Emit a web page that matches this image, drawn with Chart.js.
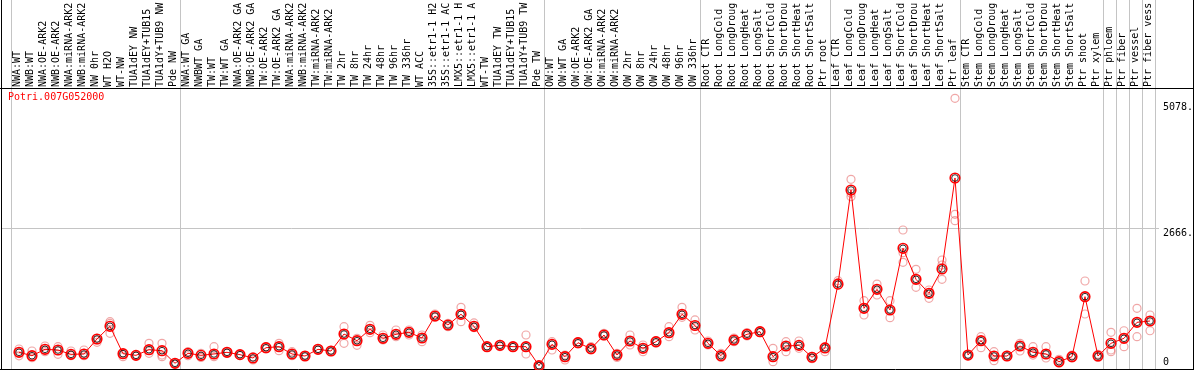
<!DOCTYPE html>
<html>
<head>
<meta charset="utf-8">
<script src="https://cdn.jsdelivr.net/npm/chart.js@4.4.1/dist/chart.umd.min.js"></script>
<style>
  html, body { margin: 0; padding: 0; background: #fff; }
  #myChart { display: block; }
</style>
</head>
<body>
<canvas id="myChart" width="1194" height="370"></canvas>
<script>
const geneName = "Potri.007G052000";

const sampleLabels = [
    "NWA:WT", "NWB:WT", "NWA:OE-ARK2", "NWB:OE-ARK2", "NWA:miRNA-ARK2", "NWB:miRNA-ARK2",
    "NW 0hr", "WT H2O", "WT-NW", "TUA1dEY NW", "TUA1dEY+TUB15", "TUA1dY+TUB9 NW", "Pde NW",
    "NWA:WT GA", "NWBWT GA", "TW:WT", "TW:WT GA", "NWA:OE-ARK2 GA", "NWB:OE-ARK2 GA",
    "TW:OE-ARK2", "TW:OE-ARK2 GA", "NWA:miRNA-ARK2", "NWB:miRNA-ARK2", "TW:miRNA-ARK2", "TW:miRNA-ARK2",
    "TW 2hr", "TW 8hr", "TW 24hr", "TW 48hr", "TW 96hr", "TW 336hr", "WT ACC",
    "35S::etr1-1 H2", "35S::etr1-1 AC", "LMX5::etr1-1 H", "LMX5::etr1-1 A",
    "WT-TW", "TUA1dEY TW", "TUA1dEY+TUB15", "TUA1dY+TUB9 TW", "Pde TW",
    "OW:WT", "OW:WT GA", "OW:OE-ARK2", "OW:OE-ARK2 GA", "OW:miRNA-ARK2", "OW:miRNA-ARK2",
    "OW 2hr", "OW 8hr", "OW 24hr", "OW 48hr", "OW 96hr", "OW 336hr",
    "Root CTR", "Root LongCold", "Root LongDroug", "Root LongHeat", "Root LongSalt",
    "Root ShortCold", "Root ShortDrou", "Root ShortHeat", "Root ShortSalt", "Ptr root",
    "Leaf CTR", "Leaf LongCold", "Leaf LongDroug", "Leaf LongHeat", "Leaf LongSalt",
    "Leaf ShortCold", "Leaf ShortDrou", "Leaf ShortHeat", "Leaf ShortSalt", "Ptr leaf",
    "Stem CTR", "Stem LongCold", "Stem LongDroug", "Stem LongHeat", "Stem LongSalt",
    "Stem ShortCold", "Stem ShortDrou", "Stem ShortHeat", "Stem ShortSalt", "Ptr shoot",
    "Ptr xylem", "Ptr phloem", "Ptr fiber", "Ptr vessel", "Ptr fiber vess"
];

// mean expression per sample
const meanValues = [
    287, 222, 344, 331, 248, 255, 542, 785, 261, 229, 337, 318, 77,
    268, 229, 255, 287, 242, 178, 375, 395, 255, 216, 344, 312,
    637, 509, 727, 555, 632, 670, 561, 982, 810, 1015, 785,
    395, 421, 395, 395, 31,
    440, 203, 471, 356, 618, 235, 503, 364, 490, 662, 1015, 800,
    459, 222, 523, 632, 682, 203, 408, 420, 192, 370,
    1592, 3394, 1129, 1493, 1097, 2278, 1684, 1416, 1882, 3624,
    235, 509, 216, 216, 408, 287, 255, 107, 203, 1352,
    216, 459, 555, 861, 886
];

// replicates
const rep1 = [
    350, 312, 408, 395, 312, 331, 555, 873, 268, 235, 459, 459, 82,
    299, 268, 395, 299, 255, 203, 395, 459, 299, 210, 360, 300,
    777, 555, 804, 618, 714, 714, 618, 1020, 842, 1148, 849,
    405, 440, 405, 618, 25,
    490, 235, 490, 395, 650, 267, 618, 427, 509, 777, 1148, 906,
    503, 268, 561, 664, 700, 364, 490, 503, 210, 395,
    1658, 3599, 1275, 1594, 1275, 2628, 1876, 1480, 2054, 5149,
    242, 586, 299, 235, 459, 395, 395, 153, 235, 1652,
    248, 670, 700, 1129, 1001
];
const rep2 = [
    287, 222, 331, 318, 248, 268, 523, 842, 248, 229, 331, 235, 77,
    268, 203, 248, 287, 242, 165, 375, 395, 255, 216, 344, 312,
    637, 509, 727, 555, 632, 670, 561, 982, 810, 1015, 785,
    395, 421, 395, 395, 31,
    440, 203, 471, 356, 618, 235, 503, 364, 490, 662, 1015, 810,
    459, 222, 523, 632, 682, 203, 408, 414, 184, 364,
    1620, 3331, 1129, 1493, 1097, 2194, 1684, 1416, 1958, 2929,
    235, 509, 216, 216, 408, 287, 255, 107, 203, 1352,
    216, 331, 555, 861, 886
];
const rep3 = [
    220, 184, 299, 248, 222, 222, 478, 651, 203, 220, 268, 203, 72,
    222, 190, 203, 268, 229, 140, 350, 318, 222, 225, 330, 325,
    459, 421, 662, 523, 586, 618, 490, 957, 778, 873, 758,
    380, 395, 380, 255, 40,
    331, 140, 446, 331, 599, 190, 427, 299, 459, 586, 957, 714,
    427, 190, 490, 600, 664, 107, 299, 364, 165, 299,
    1575, 3266, 1001, 1384, 950, 2010, 1531, 1321, 1684, 2806,
    222, 375, 126, 203, 312, 235, 178, 77, 178, 1020,
    190, 299, 395, 586, 700
];

// index of the last sample in each block, a grey rule is drawn after it
const groupEnds = [12, 40, 52, 62, 72, 83, 84, 85, 86, 87];
const yTickValues = [5078, 2666, 0];

const ctx = document.getElementById('myChart');

const meanPoints = meanValues.map((v, i) => ({ x: i, y: v }));
let repPoints = [];
for (let i = 0; i < meanValues.length; i++) {
    repPoints.push({ x: i, y: rep1[i] });
    repPoints.push({ x: i, y: rep2[i] });
    repPoints.push({ x: i, y: rep3[i] });
}

const frame = {
    id: 'frame',
    beforeDatasetsDraw(chart) {
        const c = chart.ctx;
        const xs = chart.scales.x;
        const ys = chart.scales.y;
        const W = chart.width, H = chart.height;
        c.save();
        c.fillStyle = '#fff';
        c.fillRect(0, 0, W, H);

        // grey rules
        c.strokeStyle = '#c4c4c4';
        c.lineWidth = 1;
        let rules = [Math.round(xs.getPixelForValue(0)) - 8];
        groupEnds.forEach(g => rules.push(Math.round(xs.getPixelForValue(g)) + 5));
        c.beginPath();
        rules.forEach(x => { c.moveTo(x + 0.5, 0); c.lineTo(x + 0.5, H); });
        const yMid = Math.round(ys.getPixelForValue(2666));
        c.moveTo(2, yMid + 0.5);
        c.lineTo(rules[rules.length - 1] + 4, yMid + 0.5);
        c.stroke();

        // black frame
        c.strokeStyle = '#000';
        c.beginPath();
        c.moveTo(1.5, 0); c.lineTo(1.5, H);
        c.moveTo(0, 88.5); c.lineTo(W, 88.5);
        c.moveTo(0, 369.5); c.lineTo(W, 369.5);
        c.moveTo(W - 0.5, 0); c.lineTo(W - 0.5, H);
        c.stroke();

        // rotated sample names
        c.font = '10px "DejaVu Sans Mono", monospace';
        c.fillStyle = '#000';
        c.textAlign = 'left';
        c.textBaseline = 'middle';
        sampleLabels.forEach((lab, i) => {
            const x = xs.getPixelForValue(i) - 1.5;
            c.save();
            c.translate(x, 87);
            c.rotate(-Math.PI / 2);
            c.fillText(lab, 0, 0);
            c.restore();
        });

        // value labels on the right
        yTickValues.forEach(v => {
            let y = ys.getPixelForValue(v) + 5;
            if (y > 362) y = 362;
            c.fillText(v === 0 ? '0' : v + '.', 1163, y);
        });

        // gene name
        c.fillStyle = '#ff0000';
        c.fillText(geneName, 8, 97);
        c.restore();
    }
};

const myChart = new Chart(ctx, {
    type: 'line',
    data: {
        datasets: [
            {
                label: 'mean inner',
                data: meanPoints,
                showLine: false,
                pointRadius: 3.3,
                pointBorderWidth: 0.8,
                pointBorderColor: '#000',
                pointBackgroundColor: 'rgba(0,0,0,0)',
                order: 0
            },
            {
                label: 'mean',
                data: meanPoints,
                borderColor: '#ff0000',
                borderWidth: 1,
                pointRadius: 4.8,
                pointBorderWidth: 1.6,
                pointBorderColor: '#ff0000',
                pointBackgroundColor: 'rgba(0,0,0,0)',
                tension: 0,
                order: 1
            },
            {
                label: 'replicates',
                data: repPoints,
                showLine: false,
                pointRadius: 4,
                pointBorderWidth: 1.2,
                pointBorderColor: 'rgba(228,95,95,0.55)',
                pointBackgroundColor: 'rgba(0,0,0,0)',
                order: 2
            }
        ]
    },
    options: {
        responsive: false,
        animation: false,
        devicePixelRatio: 1,
        clip: false,
        layout: { autoPadding: false, padding: { left: 2, right: 39, top: 90, bottom: 1 } },
        plugins: {
            legend: { display: false },
            tooltip: { enabled: false }
        },
        scales: {
            x: { type: 'linear', min: -1.3077, max: 87.385, display: false },
            y: { type: 'linear', min: -32.5, max: 5308, display: false }
        }
    },
    plugins: [frame]
});
</script>
</body>
</html>
